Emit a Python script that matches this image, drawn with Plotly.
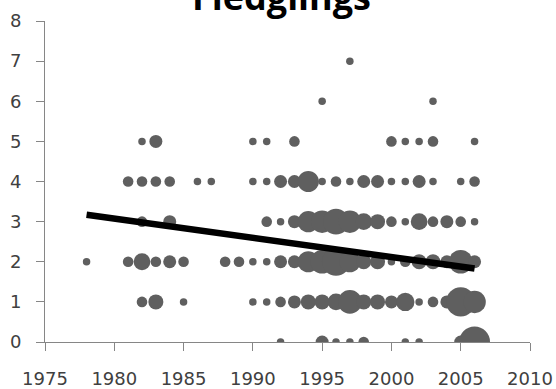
import plotly.graph_objects as go

# Nest counts per season, grouped by number of fledglings (0-7)
years_0 = [1992, 1995, 1996, 1997, 1998, 2001, 2002, 2005, 2006]
nests_0 = [1, 3, 1, 1, 2, 1, 1, 3, 17]

years_1 = [1982, 1983, 1985, 1990, 1991, 1992, 1993, 1994, 1995, 1996,
           1997, 1998, 1999, 2000, 2001, 2002, 2003, 2004, 2005, 2006]
nests_1 = [2, 4, 1, 1, 1, 2, 3, 4, 4, 5,
           10, 4, 4, 3, 6, 1, 2, 3, 15, 9]

years_2 = [1978, 1981, 1982, 1983, 1984, 1985, 1988, 1989, 1990, 1991,
           1992, 1993, 1994, 1995, 1996, 1997, 1998, 1999, 2000, 2001,
           2002, 2003, 2004, 2005, 2006]
nests_2 = [1, 2, 5, 2, 3, 2, 2, 2, 1, 1,
           3, 3, 8, 10, 14, 8, 4, 4, 1, 2,
           4, 4, 3, 10, 3]

years_3 = [1982, 1984, 1991, 1992, 1993, 1994, 1995, 1996, 1997, 1998,
           1999, 2000, 2001, 2002, 2003, 2004, 2005, 2006]
nests_3 = [2, 3, 2, 1, 3, 8, 9, 12, 9, 5,
           4, 2, 1, 5, 2, 3, 2, 1]

years_4 = [1981, 1982, 1983, 1984, 1986, 1987, 1990, 1991, 1992, 1993,
           1994, 1995, 1996, 1997, 1998, 1999, 2000, 2001, 2002, 2003,
           2005, 2006]
nests_4 = [2, 2, 2, 2, 1, 1, 1, 1, 3, 3,
           8, 1, 2, 1, 3, 3, 1, 1, 3, 1,
           1, 2]

years_5 = [1982, 1983, 1990, 1991, 1993, 2000, 2001, 2002, 2003, 2006]
nests_5 = [1, 3, 1, 1, 2, 2, 1, 1, 2, 1]

years_6 = [1995, 2003]
nests_6 = [1, 1]

years_7 = [1997]
nests_7 = [1]

# Linear trend endpoints
trend_years = [1978, 2006]
trend_fledglings = [3.17, 1.83]

x_ticks = [1975, 1980, 1985, 1990, 1995, 2000, 2005, 2010]
y_ticks = [0, 1, 2, 3, 4, 5, 6, 7, 8]

rows = [
    (0, years_0, nests_0), (1, years_1, nests_1), (2, years_2, nests_2),
    (3, years_3, nests_3), (4, years_4, nests_4), (5, years_5, nests_5),
    (6, years_6, nests_6), (7, years_7, nests_7),
]

bx, by, bs = [], [], []
for level, yrs, nests in rows:
    bx += yrs
    by += [level] * len(yrs)
    bs += nests

fig = go.Figure()
fig.add_trace(go.Scatter(
    x=bx, y=by, mode="markers",
    marker=dict(size=bs, sizemode="area", sizeref=2 / 7.5 ** 2,
                color="#5f5f5f", line=dict(width=0), opacity=1),
    cliponaxis=True, showlegend=False, hoverinfo="x+y",
))
fig.add_trace(go.Scatter(
    x=trend_years, y=trend_fledglings, mode="lines",
    line=dict(color="black", width=6.5), showlegend=False,
))

tick_font = dict(family="DejaVu Sans", size=18, color="#404040")
axis_common = dict(
    showline=True, linecolor="#868686", linewidth=1,
    ticks="outside", ticklen=8, tickcolor="#868686", tickwidth=1,
    showgrid=False, zeroline=False, tickfont=tick_font, automargin=False,
)
fig.update_xaxes(range=[1975, 2010], tickvals=x_ticks, ticklabelstandoff=12,
                 **axis_common)
fig.update_yaxes(range=[0, 8], tickvals=y_ticks, ticklabelstandoff=11,
                 **axis_common)

fig.add_annotation(
    text="<b>Fledglings</b>", xref="paper", yref="paper",
    x=0.488, y=1.0, xanchor="center", yanchor="middle", yshift=25,
    showarrow=False, font=dict(family="Open Sans", size=36, color="black"),
)

fig.update_layout(
    width=556, height=389,
    margin=dict(l=45, r=26, t=21, b=47, pad=0),
    paper_bgcolor="white", plot_bgcolor="white",
)

fig.write_html("out.html")
